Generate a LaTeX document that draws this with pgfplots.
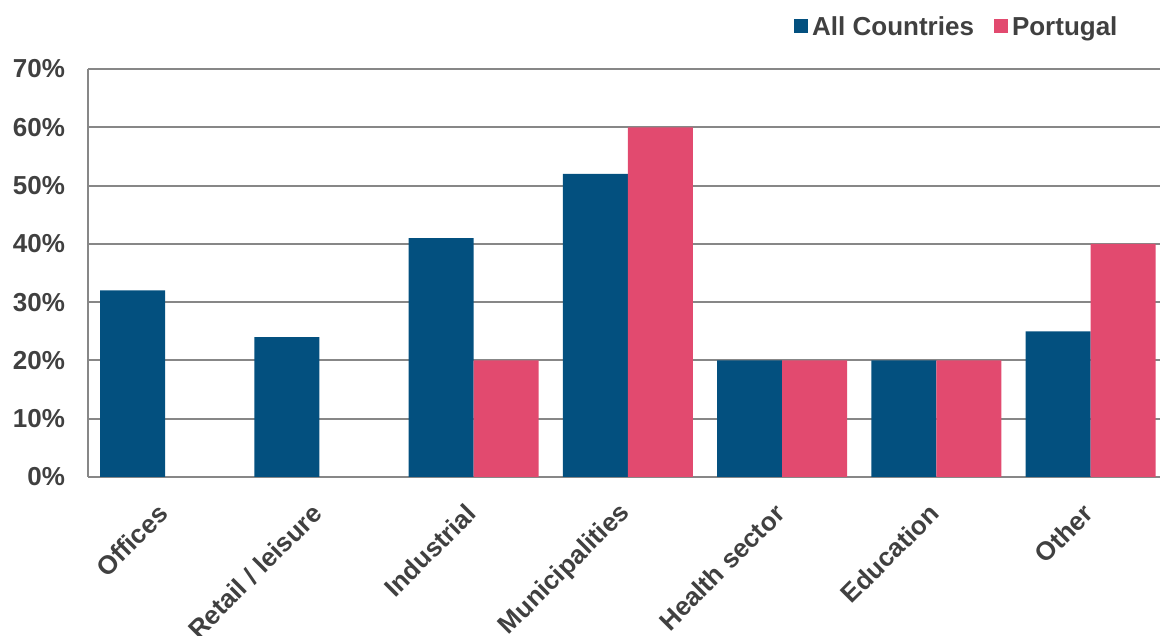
\documentclass[border=0pt]{standalone}
\usepackage{fontspec}
\setmainfont{Liberation Sans}
\usepackage{pgfplots}
\pgfplotsset{compat=1.18}
\definecolor{cblue}{HTML}{03507F}
\definecolor{cpink}{HTML}{E24A6F}
\definecolor{ctext}{HTML}{404040}
\definecolor{cgrid}{HTML}{878787}
\begin{document}
\begin{tikzpicture}
\begin{axis}[
  at={(44pt,79.5pt)}, anchor=south west,
  scale only axis, width=536pt, height=204pt,
  xmin=-0.5, xmax=6.45, ymin=0, ymax=70,
  axis x line*=bottom, axis y line*=left,
  axis line style={cgrid, line width=1pt, -},
  ymajorgrids, grid style={cgrid, line width=1pt},
  ytick={0,10,...,70}, yticklabels={0\%,10\%,20\%,30\%,40\%,50\%,60\%,70\%},
  xtick={0,...,6}, xticklabels={Offices,Retail / leisure,Industrial,Municipalities,Health sector,Education,Other},
  major tick length=0pt,
  tick label style={font=\fontsize{13}{15}\selectfont\bfseries, text=ctext},
  yticklabel style={xshift=-8pt},
  xticklabel style={rotate=45, anchor=east, xshift=-8.6pt, yshift=-10.6pt},
  ybar=0pt, bar width=0.421,
  legend style={draw=none, fill=none, legend columns=2,
    font=\fontsize{13}{15}\selectfont\bfseries, text=ctext,
    at={(0.970,1.102)}, anchor=east,
    /tikz/every even column/.append style={column sep=8pt}},
]
\addplot[fill=cblue, draw=none, legend image code/.code={\fill[cblue] (0pt,-3pt) rectangle (7pt,4pt);}]
  coordinates {(0,32) (1,24) (2,41) (3,52) (4,20) (5,20) (6,25)};
\addlegendentry{All Countries}
\addplot[fill=cpink, draw=none, legend image code/.code={\fill[cpink] (0pt,-3pt) rectangle (7pt,4pt);}]
  coordinates {(2,20) (3,60) (4,20) (5,20) (6,40)};
\addlegendentry{Portugal}
\end{axis}
\pgfresetboundingbox
\path[use as bounding box] (0,0) rectangle (580pt,318pt);
\end{tikzpicture}
\end{document}
